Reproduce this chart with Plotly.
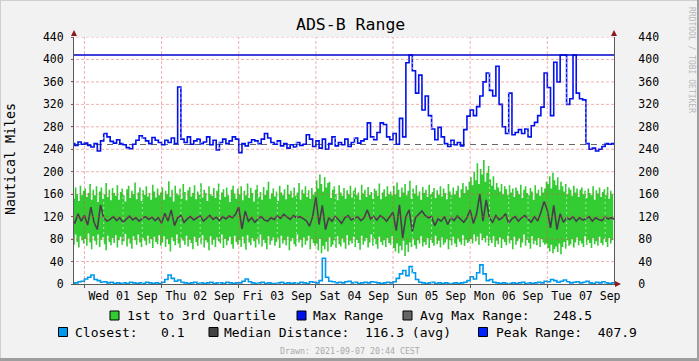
import pandas as pd
import plotly.graph_objects as go

# ---------------- data ----------------
RANGE_START = "2021-08-31 20:45"
RANGE_END = "2021-09-07 20:45"
HOURLY_START = "2021-08-31 20:00"

PEAK_RANGE = 407.9
AVG_MAX_RANGE = 248.5
CLOSEST_MIN = 0.1
MEDIAN_AVG = 116.3

# Max range, hourly
MAX_RANGE = [
    250, 247, 253, 249,
    251, 247, 244, 250, 237, 255, 268, 262, 254, 251, 257, 250, 248, 243, 241, 249, 256, 264, 260, 255, 250, 261, 256, 252,
    248, 256, 252, 260, 250, 351, 258, 252, 262, 249, 255, 258, 250, 253, 262, 248, 256, 239, 252, 258, 250, 255, 262, 258,
    234, 250, 246, 252, 257, 255, 250, 258, 268, 260, 252, 249, 255, 246, 250, 242, 248, 244, 252, 247, 249, 266, 258, 245,
    255, 242, 258, 240, 250, 262, 246, 252, 248, 258, 245, 252, 260, 251, 255, 258, 287, 262, 257, 270, 287, 284, 262, 257,
    268, 249, 295, 262, 394, 408, 380, 340, 372, 310, 335, 300, 276, 257, 279, 262, 250, 245, 256, 248, 252, 246, 275, 299,
    310, 300, 316, 335, 360, 376, 345, 335, 388, 320, 280, 268, 340, 266, 270, 275, 268, 276, 262, 282, 288, 300, 315, 376,
    350, 300, 395, 360, 408, 408, 320, 330, 408, 340, 330, 328, 250, 240, 242, 237, 240, 245, 250, 249, 250, 250,
]

# Median distance, hourly
MEDIAN = [
    118, 108, 125, 112,
    122, 105, 137, 110, 97, 141, 118, 112, 115, 120, 113, 118, 110, 116, 121, 114, 118, 112, 117, 120, 115, 119, 113, 118,
    108, 126, 112, 132, 104, 118, 122, 110, 116, 120, 114, 118, 121, 112, 117, 122, 115, 119, 113, 120, 116, 121, 118, 124,
    137, 98, 130, 112, 118, 110, 116, 120, 114, 112, 118, 115, 121, 117, 124, 119, 115, 122, 118, 120, 116, 113, 103, 120,
    155, 106, 140, 97, 118, 112, 120, 115, 108, 118, 122, 114, 117, 120, 113, 118, 132, 116, 120, 114, 122, 118, 112, 120,
    128, 95, 141, 82, 120, 132, 94, 118, 125, 130, 122, 118, 120, 104, 116, 112, 120, 106, 118, 113, 121, 116, 110, 118,
    132, 108, 125, 160, 112, 150, 118, 110, 122, 114, 118, 125, 108, 116, 120, 112, 118, 122, 115, 110, 120, 112, 128, 147,
    132, 100, 140, 97, 125, 110, 118, 115, 120, 112, 118, 114, 116, 120, 112, 118, 115, 113, 119, 116, 118, 115,
]

# Closest, hourly
CLOSEST = [
    1, 2, 4, 5,
    9, 12, 16, 8, 6, 3, 4, 2, 3, 1, 2, 1, 2, 1, 3, 2, 1, 2, 1, 3, 2, 1, 2, 1,
    3, 8, 16, 10, 5, 7, 3, 2, 1, 2, 3, 1, 2, 1, 2, 3, 1, 2, 2, 1, 3, 2, 1, 2,
    2, 5, 9, 4, 2, 1, 2, 3, 1, 2, 1, 1, 2, 3, 1, 2, 1, 2, 1, 3, 2, 1, 4, 3,
    2, 6, 46, 12, 5, 4, 2, 3, 2, 4, 5, 2, 3, 1, 2, 3, 2, 4, 3, 2, 1, 2, 3, 2,
    4, 10, 18, 24, 15, 31, 20, 8, 3, 2, 1, 2, 3, 1, 2, 1, 2, 1, 1, 2, 1, 2, 3, 6,
    13, 9, 20, 34, 18, 6, 8, 3, 2, 1, 2, 1, 1, 2, 1, 2, 3, 1, 2, 1, 2, 3, 2, 5,
    4, 8, 6, 3, 5, 7, 4, 2, 3, 4, 2, 3, 5, 2, 1, 3, 2, 4, 2, 1, 2, 2,
]

# 3rd quartile (top of green band), half-hourly
Q3 = [
    165, 152, 172, 160, 148, 175, 158, 166,
    170, 155, 162, 178, 150, 168, 158, 174, 146, 165, 172, 152, 160, 180, 155, 168, 149, 171, 162, 157, 176, 150, 164, 170,
    158, 147, 169, 175, 153, 166, 160, 181, 151, 163, 172, 148, 167, 159, 174, 156, 162, 150, 177, 165, 154, 170, 158, 163,
    172, 150, 166, 160, 183, 155, 168, 147, 175, 161, 158, 170, 152, 178, 164, 149, 167, 173, 156, 162, 176, 151, 165, 159,
    180, 154, 168, 162, 148, 174, 160, 157, 171, 153, 166, 179, 150, 163, 169, 155, 172, 158, 146, 168, 175, 161, 152, 170,
    160, 174, 149, 166, 158, 179, 153, 171, 162, 147, 168, 176, 155, 164, 150, 173, 159, 167, 182, 152, 161, 170, 156, 165,
    148, 175, 163, 158, 169, 151, 177, 160, 166, 154, 172, 157, 163, 180, 150, 168, 161, 174, 155, 167, 152, 171, 159, 164,
    185, 170, 195, 178, 165, 190, 172, 180, 182, 153, 168, 174, 160, 149, 176, 163, 157, 171, 152, 167, 160, 175, 154, 166,
    172, 158, 163, 150, 177, 161, 168, 155, 173, 159, 164, 152, 170, 166, 157, 179, 151, 163, 169, 156, 174, 160, 165, 158,
    175, 160, 181, 168, 155, 172, 163, 178, 158, 166, 184, 152, 170, 161, 176, 157, 165, 150, 173, 162, 168, 155, 177, 160,
    164, 171, 153, 167, 159, 174, 156, 170, 162, 151, 178, 165, 158, 172, 160, 166, 175, 154, 169, 180, 162, 174, 168, 182,
    190, 176, 200, 185, 215, 178, 205, 195, 221, 182, 198, 210, 186, 175, 192, 168, 180, 172, 165, 178, 160, 174, 169, 158,
    176, 163, 170, 155, 172, 166, 160, 177, 153, 168, 174, 162, 158, 171, 165, 150, 176, 161, 168, 157, 173, 163, 170, 182,
    178, 192, 170, 198, 185, 176, 190, 168, 182, 174, 165, 178, 160, 172, 168, 157, 175, 163, 170, 155, 168, 172, 160, 166,
    153, 170, 162, 158, 174, 150, 167, 161, 172, 155, 164, 169, 158, 173, 152, 166, 160, 170,
]

# 1st quartile (bottom of green band), half-hourly
Q1 = [
    82, 70, 88, 75, 65, 85, 78, 72,
    80, 68, 90, 74, 62, 85, 77, 70, 88, 66, 79, 83, 71, 60, 86, 75, 69, 82, 73, 87, 65, 78, 84, 70,
    76, 89, 67, 81, 72, 63, 85, 78, 70, 88, 74, 66, 82, 77, 69, 86, 72, 80, 64, 84, 75, 71, 87, 68,
    74, 85, 66, 80, 71, 58, 83, 76, 69, 88, 72, 64, 81, 77, 70, 86, 67, 79, 73, 62, 84, 75, 68, 82,
    71, 87, 65, 78, 74, 60, 85, 70, 79, 66, 83, 76, 72, 88, 64, 80, 69, 77, 84, 71, 63, 86, 75, 70,
    78, 66, 84, 72, 61, 87, 74, 69, 82, 76, 65, 80, 71, 88, 67, 79, 73, 62, 85, 70, 77, 83, 68, 75,
    81, 64, 86, 72, 78, 69, 84, 60, 76, 82, 71, 67, 88, 74, 79, 65, 83, 70, 77, 86, 62, 80, 73, 68,
    72, 60, 80, 55, 68, 62, 75, 58, 83, 66, 70, 78, 64, 85, 71, 67, 81, 74, 63, 87, 69, 77, 72, 84,
    66, 79, 73, 61, 86, 70, 76, 82, 65, 74, 88, 68, 80, 71, 63, 84, 75, 69, 78, 66, 82, 73, 70, 85,
    64, 58, 72, 55, 68, 60, 77, 50, 70, 57, 74, 66, 80, 69, 63, 78, 72, 85, 67, 75, 70, 82, 64, 79,
    73, 68, 86, 71, 77, 65, 83, 70, 74, 80, 62, 78, 69, 84, 72, 66, 81, 75, 70, 87, 68, 79, 73, 76,
    80, 72, 88, 76, 84, 70, 90, 78, 82, 74, 86, 68, 79, 73, 85, 66, 77, 71, 83, 64, 80, 75, 69, 86,
    72, 78, 62, 84, 70, 76, 81, 65, 74, 88, 68, 79, 73, 63, 85, 71, 77, 69, 82, 66, 80, 74, 70, 72,
    64, 58, 70, 55, 62, 67, 57, 72, 53, 66, 75, 63, 78, 68, 71, 80, 65, 74, 83, 69, 77, 72, 66, 85,
    70, 79, 73, 64, 82, 71, 76, 68, 84, 73, 69, 80, 75, 66, 82, 72, 78, 74,
]

DAY_FORMAT = "%a %d %b"
TITLE = "ADS-B Range"
Y_TITLE = "Nautical Miles"

# ---------------- styling ----------------
FONT = "DejaVu Sans Mono"
W, H = 699, 361
L, R, T, B = 74, 85, 37, 77
PW, PH = W - L - R, H - T - B

GREEN = "#33CC33"
MAXBLUE = "#0011EE"
PEAKBLUE = "#0000CC"
AVGGRAY = "#666666"
CLOSEBLUE = "#0099EE"
MEDGRAY = "#4A3D4A"
MGRID = "rgba(222,79,79,0.45)"
MINGRID = "rgba(255,255,255,0.55)"
ARROW = "#8B1A1A"
AXIS = "#5A5A5A"


def PX(px):
    return (px - L) / PW


def PY(py):
    return (T + PH - py) / PH


t_hour = pd.date_range(HOURLY_START, periods=len(MAX_RANGE), freq="h")
t_half = pd.date_range(HOURLY_START, periods=len(Q3), freq="30min")

fig = go.Figure()

fig.add_trace(go.Scatter(x=t_half, y=Q1, mode="lines", line=dict(width=0, shape="hv"),
                         showlegend=False, hoverinfo="skip"))
fig.add_trace(go.Scatter(x=t_half, y=Q3, mode="lines", line=dict(width=0, shape="hv"),
                         fill="tonexty", fillcolor=GREEN, showlegend=False, hoverinfo="skip"))
fig.add_trace(go.Scatter(x=t_hour, y=MEDIAN, mode="lines", line=dict(width=1.6, color=MEDGRAY),
                         showlegend=False, hoverinfo="skip"))
fig.add_trace(go.Scatter(x=t_hour, y=CLOSEST, mode="lines", line=dict(width=1.6, color=CLOSEBLUE, shape="hv"),
                         showlegend=False, hoverinfo="skip"))
fig.add_trace(go.Scatter(x=[RANGE_START, RANGE_END], y=[AVG_MAX_RANGE, AVG_MAX_RANGE], mode="lines",
                         line=dict(width=1.2, color=AVGGRAY, dash="6px,5px"), showlegend=False, hoverinfo="skip"))
fig.add_trace(go.Scatter(x=t_hour, y=MAX_RANGE, mode="lines", line=dict(width=1.6, color=MAXBLUE, shape="hv"),
                         showlegend=False, hoverinfo="skip"))
fig.add_trace(go.Scatter(x=[RANGE_START, RANGE_END], y=[PEAK_RANGE, PEAK_RANGE], mode="lines",
                         line=dict(width=1.3, color=PEAKBLUE), showlegend=False, hoverinfo="skip", yaxis="y2"))

shapes = []
# grid drawn over the data (as rrdtool does)
for t in pd.date_range("2021-09-01 06:00", RANGE_END, freq="6h"):
    if t.hour != 0:
        shapes.append(dict(type="line", xref="x", yref="paper", x0=t, x1=t, y0=0, y1=1, layer="above",
                           line=dict(color=MINGRID, width=1, dash="2px,3px")))
for t in pd.date_range("2021-09-01", RANGE_END, freq="D"):
    shapes.append(dict(type="line", xref="x", yref="paper", x0=t, x1=t, y0=0, y1=1, layer="above",
                       line=dict(color=MGRID, width=1, dash="3px,2px")))
for v in range(40, 441, 40):
    shapes.append(dict(type="line", xref="paper", yref="y", x0=-3 / PW, x1=1, y0=v, y1=v, layer="above",
                       line=dict(color=MGRID, width=1, dash="3px,2px")))
# arrows
shapes.append(dict(type="path", xref="paper", yref="paper", layer="above", fillcolor=ARROW, line=dict(width=0),
                   path=f"M {PX(71)} {PY(36)} L {PX(77)} {PY(36)} L {PX(74)} {PY(30)} Z"))
shapes.append(dict(type="path", xref="paper", yref="paper", layer="above", fillcolor=ARROW, line=dict(width=0),
                   path=f"M {PX(611)} {PY(36)} L {PX(617)} {PY(36)} L {PX(614)} {PY(30)} Z"))
shapes.append(dict(type="path", xref="paper", yref="paper", layer="above", fillcolor=ARROW, line=dict(width=0),
                   path=f"M {PX(615)} {PY(281)} L {PX(615)} {PY(287)} L {PX(621)} {PY(284)} Z"))
# image frame
shapes.append(dict(type="line", xref="paper", yref="paper", x0=PX(0), x1=PX(W), y0=PY(0.5), y1=PY(0.5),
                   line=dict(color="#CFCFCF", width=1)))
shapes.append(dict(type="line", xref="paper", yref="paper", x0=PX(0.5), x1=PX(0.5), y0=PY(0), y1=PY(H),
                   line=dict(color="#CFCFCF", width=1)))
shapes.append(dict(type="line", xref="paper", yref="paper", x0=PX(0), x1=PX(W), y0=PY(H - 1.5), y1=PY(H - 1.5),
                   line=dict(color="#9E9E9E", width=3)))
shapes.append(dict(type="line", xref="paper", yref="paper", x0=PX(W - 1), x1=PX(W - 1), y0=PY(0), y1=PY(H),
                   line=dict(color="#9E9E9E", width=2)))

# legend
NB = "\u00a0"
legend_items = [
    (110, 311, GREEN, 126.5, "1st to 3rd Quartile"),
    (297, 311, MAXBLUE, 312.5, "Max Range"),
    (403, 311, AVGGRAY, 420, f"Avg Max Range:{NB*3}{AVG_MAX_RANGE:.1f}"),
    (58.5, 327.5, CLOSEBLUE, 75, f"Closest:{NB*3}{CLOSEST_MIN:.1f}"),
    (209, 327.5, "#444444", 224, f"Median Distance:{NB*2}{MEDIAN_AVG:.1f} (avg)"),
    (478.5, 327.5, "#0022FF", 495.5, f"Peak Range:{NB*2}{PEAK_RANGE:.1f}"),
]
annotations = []
for sx, sy, col, tx, txt in legend_items:
    shapes.append(dict(type="rect", xref="paper", yref="paper", x0=PX(sx), x1=PX(sx + 9), y0=PY(sy + 9), y1=PY(sy),
                       fillcolor=col, line=dict(color="#000000", width=1)))
    annotations.append(dict(xref="paper", yref="paper", x=PX(tx - 1), y=PY(sy + 4.5), xanchor="left", yanchor="middle",
                            text=txt.replace(" ", NB), showarrow=False, font=dict(family=FONT, size=13, color="#000"),
                            borderpad=0))

annotations.append(dict(xref="paper", yref="paper", x=PX(350.5), y=PY(24), xanchor="center", yanchor="middle",
                        text=TITLE, showarrow=False, font=dict(family=FONT, size=16.5, color="#000")))
annotations.append(dict(xref="paper", yref="paper", x=PX(10), y=PY(159), xanchor="center", yanchor="middle",
                        text=Y_TITLE.replace(" ", NB), textangle=-90, showarrow=False,
                        font=dict(family=FONT, size=13.3, color="#000")))
annotations.append(dict(xref="paper", yref="paper", x=PX(692), y=PY(60), xanchor="center", yanchor="middle",
                        text="RRDTOOL / TOBI OETIKER".replace(" ", NB), textangle=90, showarrow=False,
                        font=dict(family=FONT, size=8, color="#B8B8B8")))
annotations.append(dict(xref="paper", yref="paper", x=PX(350), y=PY(350.5), xanchor="center", yanchor="middle",
                        text="Drawn: 2021-09-07 20:44 CEST".replace(" ", NB), showarrow=False,
                        font=dict(family=FONT, size=8.3, color="#AAAAAA")))

fig.update_layout(
    width=W, height=H,
    margin=dict(l=L, r=R, t=T, b=B, pad=0),
    paper_bgcolor="#F2F2F2", plot_bgcolor="#FFFFFF",
    font=dict(family=FONT, size=11.5, color="#000"),
    showlegend=False, hovermode=False,
    shapes=shapes, annotations=annotations,
    xaxis=dict(type="date", range=[RANGE_START, RANGE_END], tick0="2021-09-01", dtick=86400000,
               tickformat=DAY_FORMAT, ticklabelmode="period", showgrid=False, zeroline=False,
               showline=True, linecolor=AXIS, linewidth=1, ticks="outside", ticklen=3, tickcolor=AXIS,
               ticklabelstandoff=-2,
               tickfont=dict(family=FONT, size=11.5, color="#000"), layer="above traces"),
    yaxis=dict(range=[0, 440], dtick=40, tick0=0, showgrid=False, zeroline=False, showline=True,
               linecolor=AXIS, linewidth=1, ticks="outside", ticklen=2, tickcolor=AXIS,
               ticklabelstandoff=5, tickfont=dict(family=FONT, size=11.5, color="#000"), layer="above traces"),
    yaxis2=dict(range=[0, 440], dtick=40, tick0=0, overlaying="y", side="right", matches="y",
                showgrid=False, zeroline=False, showline=True, linecolor=AXIS, linewidth=1,
                ticks="", ticklabelstandoff=21, tickfont=dict(family=FONT, size=11.5, color="#000"),
                layer="above traces"),
)

fig.write_html("out.html", config={"displayModeBar": False},
               post_script="document.body.style.margin='0';document.body.style.padding='0';")
